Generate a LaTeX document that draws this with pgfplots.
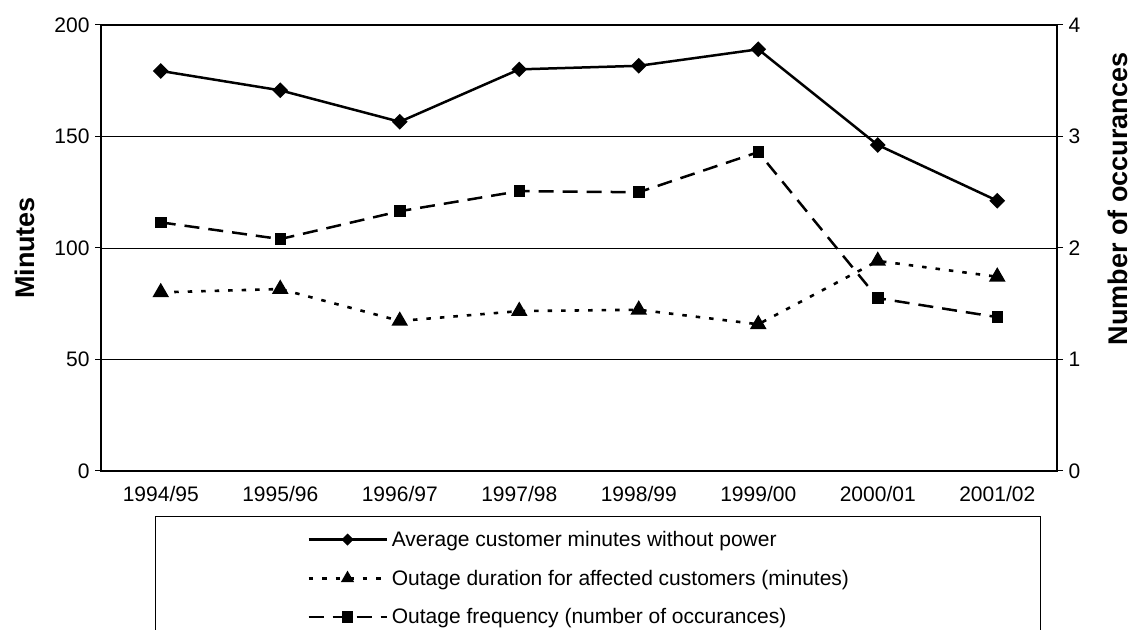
\documentclass[border=0pt]{standalone}
\usepackage{fontspec}
\setmainfont{Liberation Sans}
\usepackage{pgfplots}
\pgfplotsset{compat=1.18}
\begin{document}
\begin{tikzpicture}
\path[use as bounding box] (0,0) rectangle (1133bp,630bp);
\pgfplotsset{
  base/.style={
    at={(101bp,159bp)}, anchor=south west,
    width=956bp, height=446bp, scale only axis,
    xmin=-0.5, xmax=7.5,
    tick align=outside,
    major tick length=6bp,
    tick style={black, line width=1bp},
    /pgf/number format/assume math mode=true,
    tick label style={font=\fontsize{21bp}{24bp}\selectfont},
    label style={font=\bfseries\fontsize{27bp}{30bp}\selectfont},
  },
  leg/.style={legend image code/.code={%
    \draw[mark repeat=2,mark phase=2,##1] plot coordinates {(0bp,0bp) (39bp,0bp) (78bp,0bp)};}},
}
\begin{axis}[base,
  ymin=0, ymax=200, ytick={0,50,...,200},
  ytick pos=left,
  xtick={0,...,7},
  xticklabels={1994/95,1995/96,1996/97,1997/98,1998/99,1999/00,2000/01,2001/02},
  xtick pos=bottom,
  x tick style={draw=none},
  extra x ticks={-0.5,0.5,...,7.5},
  extra x tick labels={},
  extra x tick style={tick style={black, line width=1bp}, major tick length=7bp},
  ymajorgrids, grid style={black, line width=0.8bp},
  axis line style={black, line width=1.6bp},
  ylabel={Minutes},
  ylabel style={at={(-76bp,223bp)}, anchor=center},
  xticklabel style={yshift=-6bp},
  yticklabel style={xshift=-2bp},
]
\addplot[black, line width=2.5bp, mark=square*, mark size=4.3bp, mark options={rotate=45, solid}]
  coordinates {(0,179.4) (1,170.7) (2,156.6) (3,180.1) (4,181.7) (5,189.1) (6,146.2) (7,121.2)};
\addplot[black, line width=2.6bp, dash pattern=on 4.5bp off 9bp, mark=triangle*, mark size=7bp, mark options={solid}]
  coordinates {(0,80.1) (1,81.6) (2,67.3) (3,71.7) (4,72.3) (5,65.8) (6,94.2) (7,87.1)};
\end{axis}
\begin{axis}[base, leg,
  ymin=0, ymax=4, ytick={0,1,2,3,4},
  axis y line*=right, hide x axis,
  axis line style={black, line width=1.6bp},
  ylabel={Number of occurances},
  ylabel style={at={(1017bp,272bp)}, anchor=center},
  yticklabel style={xshift=2bp},
  legend style={draw=none, fill=none, inner sep=0pt, at={(0.2155,-0.13)}, anchor=north west,
    row sep=18bp, cells={anchor=west}, font=\fontsize{21bp}{24bp}\selectfont,
    /tikz/every odd column/.append style={column sep=2bp}},
]
\addlegendimage{black, line width=2.5bp, mark=square*, mark size=3bp, mark options={rotate=45, solid}}
\addlegendentry{Average customer minutes without power}
\addlegendimage{black, line width=2.6bp, dash pattern=on 4.5bp off 9bp, mark=triangle*, mark size=5bp, mark options={solid}}
\addlegendentry{Outage duration for affected customers (minutes)}
\addplot[black, line width=2.5bp, dash pattern=on 15bp off 9bp, mark=square*, mark size=4.5bp, mark options={solid}]
  coordinates {(0,2.23) (1,2.08) (2,2.33) (3,2.51) (4,2.50) (5,2.86) (6,1.55) (7,1.38)};
\addlegendentry{Outage frequency (number of occurances)}
\end{axis}
\draw[black, line width=1bp] (155bp,113bp) rectangle (1040bp,-30bp);
\end{tikzpicture}
\end{document}
